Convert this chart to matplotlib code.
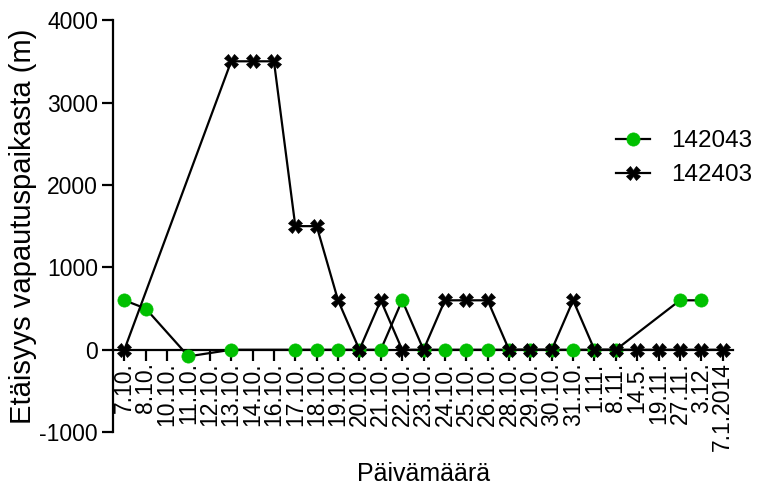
import numpy as np
import matplotlib
matplotlib.use("Agg")
import matplotlib.pyplot as plt

plt.rcParams['font.family'] = ['Liberation Sans', 'DejaVu Sans']
plt.rcParams['axes.unicode_minus'] = False

dates = ["7.10.", "8.10.", "10.10.", "11.10.", "12.10.", "13.10.", "14.10.", "16.10.",
         "17.10.", "18.10.", "19.10.", "20.10.", "21.10.", "22.10.", "23.10.", "24.10.",
         "25.10.", "26.10.", "28.10.", "29.10.", "30.10.", "31.10.", "1.11.", "8.11.",
         "14.5.", "19.11.", "27.11.", "3.12.", "7.1.2014"]
nan = np.nan
s142043 = [600, 500, nan, -80, nan, 0, nan, nan,
           0, 0, 0, 0, 0, 600, 0, 0,
           0, 0, 0, 0, 0, 0, 0, 0,
           nan, nan, 600, 600, nan]
s142403 = [0, nan, nan, nan, nan, 3500, 3500, 3500,
           1500, 1500, 600, 0, 600, 0, 0, 600,
           600, 600, 0, 0, 0, 600, 0, 0,
           0, 0, 0, 0, 0]

fig = plt.figure(figsize=(7.6, 4.9), dpi=100)
ax = fig.add_axes([0.149, 0.118, 0.816, 0.841])

x = np.arange(len(dates))
for vals, color, marker, ms, label in [
        (s142043, '#00c000', 'o', 9.5, '142043'),
        (s142403, 'black', 'X', 10, '142403')]:
    v = np.array(vals, dtype=float)
    m = ~np.isnan(v)
    ax.plot(x[m], v[m], color='black', lw=1.6, marker=marker, ms=ms,
            mfc=color, mec=color, mew=0.5, label=label, zorder=3, clip_on=False)

ax.set_xlim(-0.52, 28.5)
ax.set_ylim(-1000, 4000)
ax.set_yticks([-1000, 0, 1000, 2000, 3000, 4000])
ax.set_xticks(x)
ax.set_xticklabels(dates)
ax.spines['top'].set_visible(False)
ax.spines['right'].set_visible(False)
ax.spines['bottom'].set_position(('data', 0))
for sp in ['left', 'bottom']:
    ax.spines[sp].set_linewidth(1.6)
ax.tick_params(axis='both', which='major', length=8, width=1.6)
ax.tick_params(axis='y', pad=3, labelsize=16.5)
ax.tick_params(axis='x', pad=1, labelsize=16.5, labelrotation=90)
for lab in ax.get_xticklabels():
    lab.set_verticalalignment('top')
    lab.set_horizontalalignment('center')

ax.set_ylabel("Etäisyys vapautuspaikasta (m)", fontsize=21, labelpad=2)
fig.text(0.557, 0.033, "Päivämäärä", ha='center', va='center', fontsize=18)

leg = ax.legend(loc='center left', bbox_to_anchor=(0.776, 0.665), frameon=False,
                fontsize=17.5, handlelength=1.4, handletextpad=0.85, labelspacing=0.5)

fig.savefig("out.png", dpi=100)
